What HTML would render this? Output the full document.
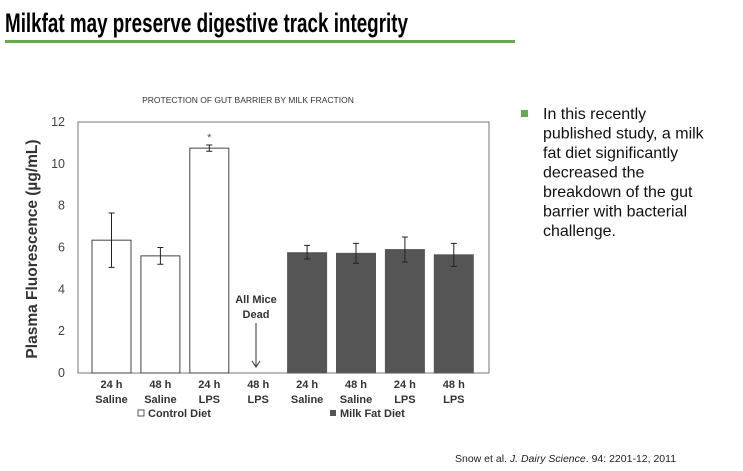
<!DOCTYPE html>
<html><head><meta charset="utf-8"><style>
html,body{margin:0;padding:0;background:#fff;}
svg{display:block;font-family:"Liberation Sans",sans-serif;}
</style></head><body>
<svg id="s" width="743" height="471" viewBox="0 0 743 471">
<text x="5" y="32" font-size="27" font-weight="bold" textLength="403" lengthAdjust="spacingAndGlyphs" fill="#000">Milkfat may preserve digestive track integrity</text>
<rect x="5" y="40" width="510" height="3" fill="#6aa84f"/>
<text x="248" y="103" font-size="8.5" text-anchor="middle" fill="#333">PROTECTION OF GUT BARRIER BY MILK FRACTION</text>
<text transform="translate(37,249) rotate(-90)" font-size="15.5" font-weight="bold" fill="#333" text-anchor="middle">Plasma Fluorescence (µg/mL)</text>
<g id="plot"></g>
<text x="256" y="303" font-size="11" font-weight="bold" fill="#333" text-anchor="middle">All Mice</text>
<text x="256" y="318" font-size="11" font-weight="bold" fill="#333" text-anchor="middle">Dead</text>
<line x1="256" y1="323" x2="256" y2="366" stroke="#333" stroke-width="1"/>
<path d="M252,361 L256,367 L260,361" fill="none" stroke="#333"/>
<rect x="138" y="410" width="6" height="6" fill="#fff" stroke="#333" stroke-width="0.8"/>
<text x="148" y="417" font-size="11" font-weight="bold" fill="#333">Control Diet</text>
<rect x="330" y="410" width="6" height="6" fill="#555"/>
<text x="340" y="417" font-size="11" font-weight="bold" fill="#333">Milk Fat Diet</text>
<rect x="521" y="110" width="7" height="7" fill="#6aa84f"/>
<g font-size="16" fill="#111">
<text x="543" y="119">In this recently</text>
<text x="543" y="138.5">published study, a milk</text>
<text x="543" y="158">fat diet significantly</text>
<text x="543" y="177.5">decreased the</text>
<text x="543" y="197">breakdown of the gut</text>
<text x="543" y="216.5">barrier with bacterial</text>
<text x="543" y="236">challenge.</text>
</g>
<text x="455" y="462" font-size="10.5" fill="#222">Snow et al.  <tspan font-style="italic">J. Dairy Science</tspan>. 94: 2201-12, 2011</text>
</svg>
<script>
const categories1 = ["24 h","48 h","24 h","48 h","24 h","48 h","24 h","48 h"];
const categories2 = ["Saline","Saline","LPS","LPS","Saline","Saline","LPS","LPS"];
const values = [6.35, 5.6, 10.75, null, 5.75, 5.72, 5.9, 5.65];
const errLow = [5.05, 5.2, 10.6, null, 5.45, 5.25, 5.3, 5.1];
const errHigh = [7.65, 6.0, 10.9, null, 6.1, 6.2, 6.5, 6.2];
const groups = ["control","control","control","control","milkfat","milkfat","milkfat","milkfat"];
const yTicks = [0,2,4,6,8,10,12];

const NS="http://www.w3.org/2000/svg";
const g=document.getElementById('plot');
const L=78,R=489,T=122,B=373,yMax=12;
const slot=48.9, firstC=L+33.5;
const y=v=>B-(v/yMax)*(B-T);
const xc=i=>firstC+slot*i;
function mk(tag,a){const e=document.createElementNS(NS,tag);for(const k in a)e.setAttribute(k,a[k]);g.appendChild(e);return e;}
let frame=mk('rect',{x:L,y:T,width:R-L,height:B-T,fill:'none',stroke:'#777','stroke-width':1});


yTicks.forEach(t=>{
  const tx=mk('text',{x:L-13,y:y(t)+4,'font-size':12.5,fill:'#444','text-anchor':'end'});
  tx.textContent=t;
  
  
});
const bw=39;
values.forEach((v,i)=>{
  const cx=xc(i);
  if(v!==null){
    const ctrl=groups[i]==='control';
    const b=mk('rect',{x:cx-bw/2,y:y(v),width:bw,height:B-y(v),fill:ctrl?'#fff':'#555',stroke:ctrl?'#444':'#555','stroke-width':1});
    
    
    const e=mk('path',{d:`M${cx},${y(errLow[i])}V${y(errHigh[i])}M${cx-3},${y(errLow[i])}H${cx+3}M${cx-3},${y(errHigh[i])}H${cx+3}`,stroke:'#222',fill:'none','stroke-width':1});
    
    
  }
  const t1=mk('text',{x:cx,y:B+15,'font-size':11,'font-weight':'bold',fill:'#333','text-anchor':'middle'});
  t1.textContent=categories1[i];
  
  
  const t2=mk('text',{x:cx,y:B+30,'font-size':11,'font-weight':'bold',fill:'#333','text-anchor':'middle'});
  t2.textContent=categories2[i];
  
  
});
const st=mk('text',{x:xc(2),y:y(errHigh[2])-4,'font-size':11,fill:'#555','text-anchor':'middle'});
st.textContent='*';


</script>
</body></html>
